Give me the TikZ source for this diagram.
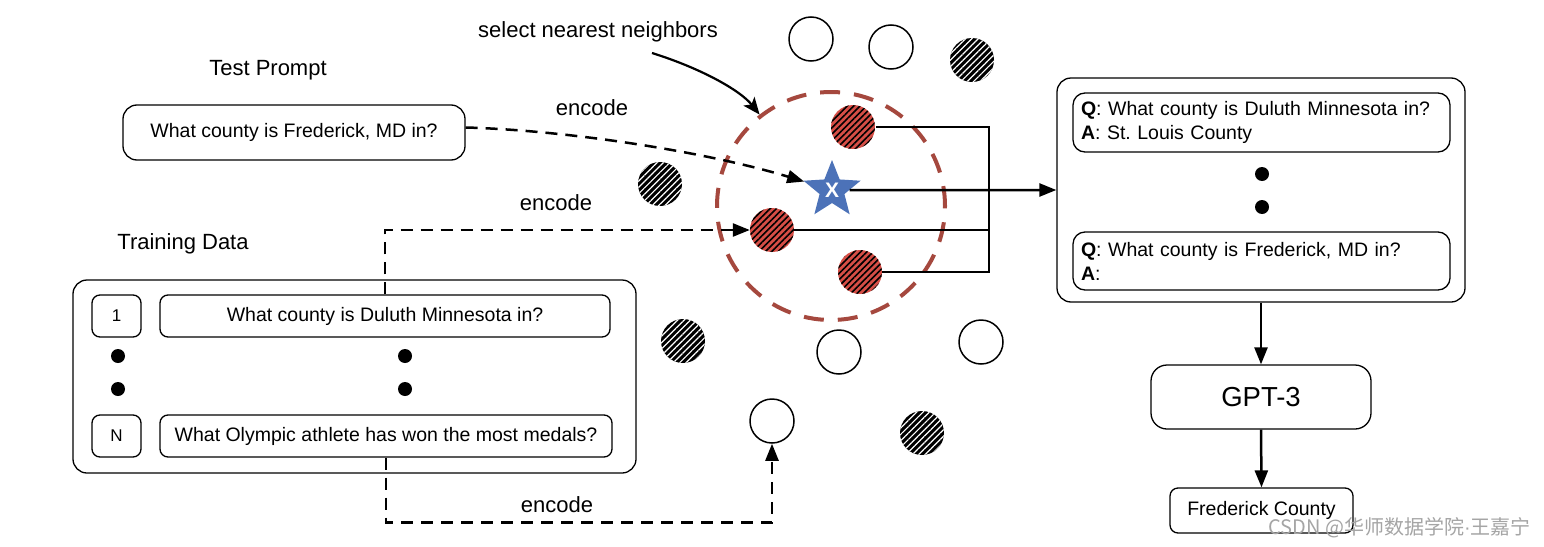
\documentclass[tikz,border=0pt]{standalone}
\usepackage{fontspec}
\setmainfont{Liberation Sans}
\newfontfamily\cjkfont{Noto Sans CJK SC}
\usetikzlibrary{shapes.geometric,patterns.meta,arrows.meta}
\definecolor{hatchred}{RGB}{214,78,70}
\definecolor{ringred}{RGB}{165,72,62}
\definecolor{starblue}{RGB}{76,114,184}
\definecolor{wmgray}{RGB}{165,165,165}
\frenchspacing
\begin{document}
\begin{tikzpicture}[x=1pt,y=-1pt,
  box/.style={draw, line width=1.3pt, rounded corners=12pt, inner sep=0pt, font=\fontsize{19.5}{24}\selectfont},
  lbl/.style={font=\fontsize{22}{26}\selectfont, inner sep=0pt},
  tip/.style={-{Triangle[length=17pt,width=13pt]}},
  stip/.style={-{Stealth[length=17pt,width=14pt,inset=4pt]}},
  conn/.style={line width=2.5pt},
  dsh/.style={line width=2.5pt, dash pattern=on 12pt off 8pt},
  wc/.style={circle, draw, line width=1.5pt, minimum size=44pt, inner sep=0pt},
  kc/.style={circle, minimum size=44pt, inner sep=0pt, preaction={fill=black}, pattern={Lines[angle=45,distance=4.5pt,line width=1.2pt]}, pattern color=white},
  rc/.style={circle, minimum size=44pt, inner sep=0pt, preaction={fill=hatchred}, pattern={Lines[angle=45,distance=4.5pt,line width=1.6pt]}, pattern color=black},
  dotn/.style={circle, fill=black, minimum size=14pt, inner sep=0pt},
]
\fill[white] (0,0) rectangle (1544,546);
\useasboundingbox (0,0) rectangle (1544,546);

% labels
\node[lbl] (sel) at (598,32) {select nearest neighbors};
\node[lbl] (tplbl) at (268,70) {Test Prompt};
\node[lbl] (trlbl) at (183,244) {Training Data};
\node[lbl] (enc1) at (592,108) {encode};
\node[lbl] (enc2) at (556,203) {encode};
\node[lbl] (enc3) at (557,505) {encode};

% test prompt
\node[box, rounded corners=14pt, minimum width=342pt, minimum height=55pt] (tp) at (294,132.5) {What county is Frederick, MD in?};

% training data
\node[box, rounded corners=14pt, minimum width=563pt, minimum height=193pt] (train) at (354.5,376.5) {};
\node[box, rounded corners=8pt, minimum width=49pt, minimum height=42pt, font=\fontsize{17}{20}\selectfont] (n1) at (116.5,316) {1};
\node[box, rounded corners=8pt, minimum width=450pt, minimum height=42pt] (t1) at (385,316) {What county is Duluth Minnesota in?};
\node[box, rounded corners=8pt, minimum width=49pt, minimum height=42pt, font=\fontsize{17}{20}\selectfont] (nN) at (116.5,436) {N};
\node[box, rounded corners=8pt, minimum width=452pt, minimum height=42pt] (tN) at (386,436) {What Olympic athlete has won the most medals?};
\node[dotn] (d1) at (118,356) {};
\node[dotn] (d2) at (118,389) {};
\node[dotn] (d3) at (405,356) {};
\node[dotn] (d4) at (405,389) {};

% neighbour ring
\node[circle, draw=ringred, line width=4pt, dash pattern=on 20pt off 14pt, minimum size=228pt, inner sep=0pt] (ring) at (831,206) {};

% circles
\node[wc] (w1) at (811,39) {};
\node[wc] (w2) at (891,47) {};
\node[wc] (w3) at (839,352) {};
\node[wc] (w4) at (981,342) {};
\node[wc] (w5) at (772,421) {};
\node[kc] (k1) at (972,60) {};
\node[kc] (k2) at (660,184) {};
\node[kc] (k3) at (683,341) {};
\node[kc] (k4) at (922,433) {};
\node[rc] (rA) at (853,127) {};
\node[rc] (rB) at (772,230) {};
\node[rc] (rC) at (860,272) {};

% star
\node[star, star points=5, star point ratio=2.3, minimum size=60pt, inner sep=0pt, fill=starblue, text=white, font=\bfseries\fontsize{21}{24}\selectfont] (star) at (832,190) {X};

% right context box
\node[box, rounded corners=14pt, minimum width=408pt, minimum height=224pt] (ctx) at (1261,190) {};
\node[box, rounded corners=12pt, minimum width=377pt, minimum height=59pt, text width=361pt, align=left] (q1) at (1261.5,122.5) {\textbf{Q}: What county is Duluth Minnesota in?\\\textbf{A}: St. Louis County};
\node[box, rounded corners=12pt, minimum width=377pt, minimum height=58pt, text width=361pt, align=left] (q2) at (1261.5,261) {\textbf{Q}: What county is Frederick, MD in?\\\textbf{A}:};
\node[dotn] (d5) at (1262,174) {};
\node[dotn] (d6) at (1262,207) {};

\node[box, rounded corners=16pt, minimum width=220pt, minimum height=64pt, font=\fontsize{27.5}{32}\selectfont] (gpt) at (1261,397) {GPT-3};
\node[box, rounded corners=8pt, minimum width=183pt, minimum height=45pt] (ans) at (1261.5,510.5) {Frederick County};

% connectors
\coordinate (selA) at (652,53);
\draw[line width=2.2pt, stip] (selA) .. controls (700,68) and (740,90) .. (ring.128);
\draw[dsh, tip] ([yshift=5pt]tp.east) .. controls (560,130) and (700,150) .. (star);
\draw[dsh, tip] (t1.north) |- (rB.west);
\draw[dsh, tip] (tN.south) -- ++(0,65) -| (w5.south);

\coordinate (jt) at (989,127);
\draw[conn] (rA.east) -- (rA.east -| jt) |- (rC.east);
\draw[conn] (rB.east) -- (rB.east -| jt);
\draw[conn, tip] (star.east) -- (ctx.west);

\draw[conn, tip] (ctx.south) -- (gpt.north);
\draw[conn, tip] (gpt.south) -- (ans.north);

% watermark
\node[anchor=east, text=wmgray, font=\cjkfont\fontsize{20}{24}\selectfont, inner sep=0pt] (wm) at (1531,528) {CSDN @华师数据学院{\normalfont ·}王嘉宁};
\end{tikzpicture}
\end{document}
